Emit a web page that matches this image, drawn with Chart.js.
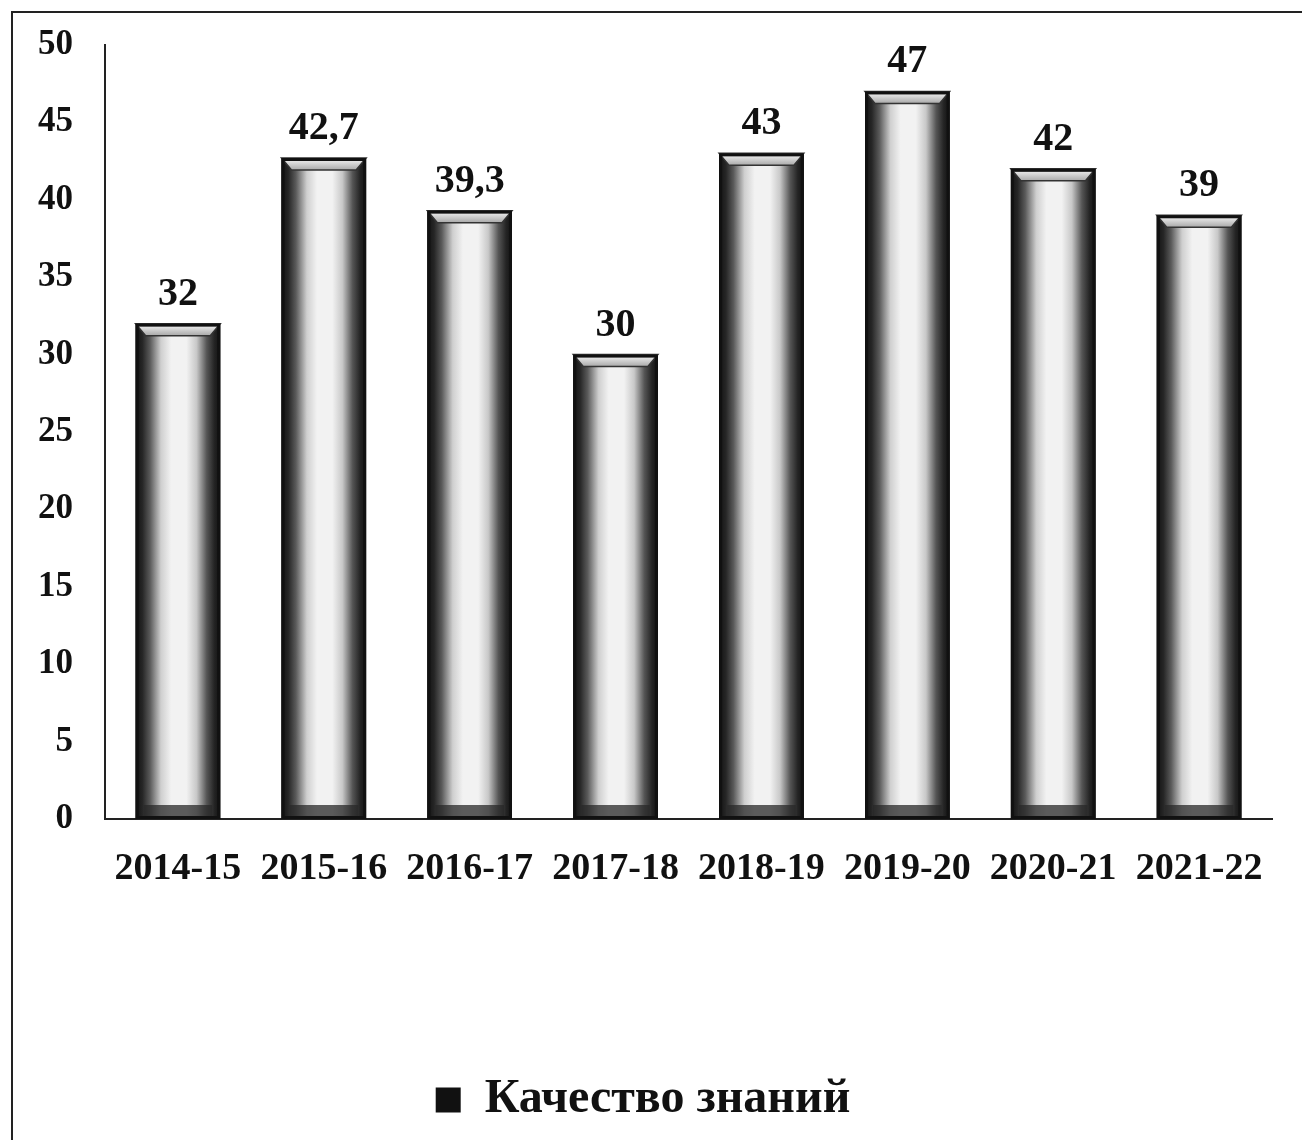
<!DOCTYPE html>
<html>
<head>
<meta charset="utf-8">
<script src="https://cdn.jsdelivr.net/npm/chart.js@4"></script>
<style>
html, body { margin: 0; padding: 0; background: #fff; }
#wrap { position: relative; width: 1302px; height: 1140px; overflow: hidden; }
#frame { position: absolute; left: 11px; top: 11px; right: -10px; bottom: -10px; border-top: 2px solid #222; border-left: 2px solid #222; }
canvas { position: absolute; left: 0; top: 0; }
</style>
</head>
<body>
<div id="wrap">
  <div id="frame"></div>
  <canvas id="chart" width="1302" height="1140"></canvas>
</div>
<script>
// DATA
const years = ['2014-15', '2015-16', '2016-17', '2017-18', '2018-19', '2019-20', '2020-21', '2021-22'];
const quality = [32, 42.7, 39.3, 30, 43, 47, 42, 39];
const seriesName = 'Качество знаний';
const yMin = 0;
const yMax = 50;
const yStep = 5;

const SERIF = '"Liberation Serif", "Times New Roman", serif';

// bars with dark edges, light middle and a bevelled top
const barShade = {
    id: 'barShade',
    afterDatasetsDraw(chart) {
        const ctx = chart.ctx;
        const meta = chart.getDatasetMeta(0);
        meta.data.forEach((bar, i) => {
            const { x, y, base, width } = bar.getProps(['x', 'y', 'base', 'width'], true);
            const l = x - width / 2;
            const r = x + width / 2;
            ctx.save();

            const g = ctx.createLinearGradient(l, 0, r, 0);
            g.addColorStop(0, '#121212');
            g.addColorStop(0.08, '#262626');
            g.addColorStop(0.17, '#5a5a5a');
            g.addColorStop(0.30, '#cfcfcf');
            g.addColorStop(0.42, '#f2f2f2');
            g.addColorStop(0.60, '#f2f2f2');
            g.addColorStop(0.72, '#c8c8c8');
            g.addColorStop(0.84, '#555555');
            g.addColorStop(0.93, '#242424');
            g.addColorStop(1, '#121212');
            ctx.fillStyle = g;
            ctx.fillRect(l, y, width, base - y);

            // bottom inner band
            ctx.fillStyle = 'rgba(40,40,40,0.75)';
            ctx.fillRect(l + 8, base - 14, width - 16, 12);

            // top cap
            const cap = 12;
            const cg = ctx.createLinearGradient(0, y, 0, y + cap);
            cg.addColorStop(0, '#fafafa');
            cg.addColorStop(1, '#a8a8a8');
            ctx.beginPath();
            ctx.moveTo(l, y);
            ctx.lineTo(r, y);
            ctx.lineTo(r - 10, y + cap);
            ctx.lineTo(l + 10, y + cap);
            ctx.closePath();
            ctx.fillStyle = cg;
            ctx.fill();
            ctx.strokeStyle = '#333';
            ctx.lineWidth = 1.5;
            ctx.stroke();

            // outline
            ctx.strokeStyle = '#111';
            ctx.lineWidth = 3;
            ctx.strokeRect(l + 1.5, y + 1.5, width - 3, base - y - 3);

            // value label
            ctx.fillStyle = '#111';
            ctx.font = 'bold 40px ' + SERIF;
            ctx.textAlign = 'center';
            ctx.textBaseline = 'alphabetic';
            ctx.fillText(String(quality[i]).replace('.', ','), x, y - 19);
            ctx.restore();
        });
    }
};

new Chart(document.getElementById('chart'), {
    type: 'bar',
    data: {
        labels: years,
        datasets: [{
            label: seriesName,
            data: quality,
            backgroundColor: '#111',
            borderWidth: 0,
            categoryPercentage: 0.58,
            barPercentage: 1
        }]
    },
    options: {
        responsive: false,
        animation: false,
        layout: { padding: { top: 44, left: 14, right: 30, bottom: 6 } },
        plugins: {
            tooltip: { enabled: false },
            legend: {
                position: 'bottom',
                labels: {
                    color: '#111',
                    font: { family: SERIF, size: 48, weight: 'bold' },
                    boxWidth: 25,
                    boxHeight: 25,
                    padding: 10
                }
            }
        },
        scales: {
            x: {
                grid: { display: false },
                border: { display: true, color: '#222', width: 2 },
                ticks: {
                    color: '#111',
                    font: { family: SERIF, size: 38, weight: 'bold' },
                    padding: 19,
                    maxRotation: 0,
                    autoSkip: false
                },
                afterFit(scale) { scale.height = 247; }
            },
            y: {
                min: yMin,
                max: yMax,
                grid: { display: false },
                border: { display: true, color: '#222', width: 2 },
                ticks: {
                    stepSize: yStep,
                    color: '#111',
                    font: { family: SERIF, size: 35, weight: 'bold' },
                    padding: 24
                }
            }
        }
    },
    plugins: [barShade]
});
</script>
</body>
</html>
